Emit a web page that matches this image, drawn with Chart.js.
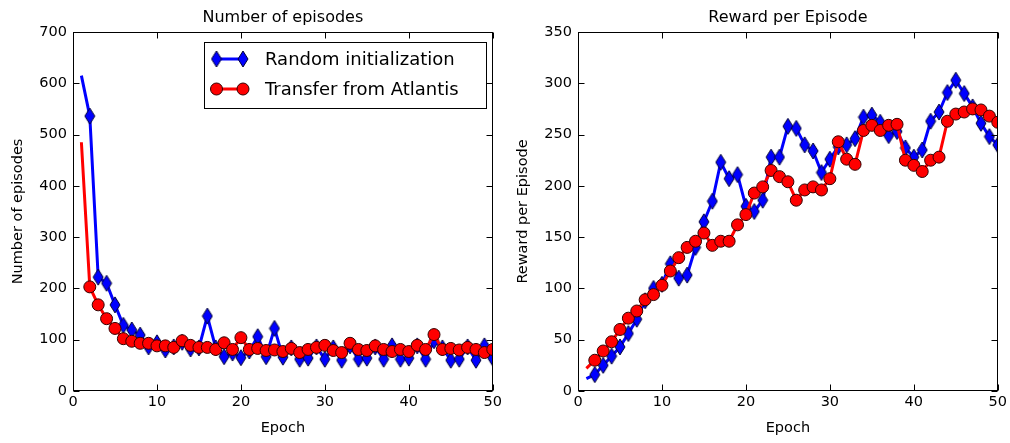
<!DOCTYPE html>
<html><head><meta charset="utf-8">
<script src="https://cdn.jsdelivr.net/npm/chart.js@4/dist/chart.umd.min.js"></script>
<style>
html,body{margin:0;padding:0;background:#fff;}
#wrap{position:relative;width:1010px;height:443px;overflow:hidden;}
canvas{position:absolute;top:0;}
</style></head><body>
<div id="wrap">
<canvas id="left" width="505" height="443" style="left:0"></canvas>
<canvas id="right" width="505" height="443" style="left:505px"></canvas>
</div>
<script>
const epochs = [1,2,3,4,5,6,7,8,9,10,11,12,13,14,15,16,17,18,19,20,21,22,23,24,25,26,27,28,29,30,31,32,33,34,35,36,37,38,39,40,41,42,43,44,45,46,47,48,49,50];
const episodesRandom = [615,536,222,210,168,128,119,109,86,94,80,86,95,82,84,146,84,67,74,65,78,106,67,122,66,84,62,64,86,62,84,60,88,62,64,86,62,88,62,64,88,62,98,84,60,62,86,60,88,64];
const episodesTransfer = [485,203,168,141,122,102,97,93,93,88,88,85,98,89,85,85,81,94,81,104,81,83,79,80,77,83,75,81,85,89,79,75,93,81,79,88,81,77,81,77,89,81,110,81,83,80,85,81,75,81];
const rewardRandom = [12,16,25,34,43,56,70,88,100,104,124,110,113,140,165,185,223,207,211,180,175,186,228,228,258,256,240,234,213,226,238,240,246,267,269,262,249,253,237,228,235,263,272,291,303,290,277,261,248,240];
const rewardTransfer = [22,30,39,48,60,71,78,89,94,103,117,130,140,146,154,142,146,146,162,172,193,199,215,209,204,186,196,199,196,207,243,226,221,254,259,254,259,260,225,220,214,225,228,263,270,272,275,274,268,262];
const xTicks = [0,10,20,30,40,50];
const episodesTicks = [0,100,200,300,400,500,600,700];
const rewardTicks = [0,50,100,150,200,250,300,350];
const seriesLabels = ['Random initialization','Transfer from Atlantis'];
const chartTitles = ['Number of episodes','Reward per Episode'];
const xTitle = 'Epoch';

const FONT = 'DejaVu Sans';
const BLUE = '#0000ff', RED = '#ff0000';

function makeDiamond(w, h, fill, stroke) {
  const c = document.createElement('canvas');
  c.width = w + 2; c.height = h + 2;
  const g = c.getContext('2d');
  g.beginPath();
  g.moveTo(c.width/2, 1); g.lineTo(c.width-1, c.height/2);
  g.lineTo(c.width/2, c.height-1); g.lineTo(1, c.height/2); g.closePath();
  g.fillStyle = fill; g.fill();
  g.lineWidth = 1; g.strokeStyle = stroke; g.stroke();
  return c;
}
const diamond = makeDiamond(10, 16, BLUE, '#000033');

function ds(label, ys, color, style, radius, order) {
  return {
    label,
    data: epochs.map((x, i) => ({x, y: ys[i]})),
    borderColor: color, backgroundColor: color, borderWidth: 3,
    borderJoinStyle: 'round',
    pointStyle: style,
    pointRadius: c => c.dataIndex === 0 ? 0 : radius,
    pointHoverRadius: c => c.dataIndex === 0 ? 0 : radius,
    pointBorderColor: '#330000', pointBorderWidth: 1,
    pointBackgroundColor: color,
    tension: 0, clip: 0, order
  };
}

const framePlugin = {
  id: 'frame',
  afterDatasetsDraw(chart) {
    const {ctx, chartArea: a, scales: {x, y}} = chart;
    const L = Math.round(a.left) + 0.5, R = Math.round(a.right) - 0.5;
    const T = Math.round(a.top) + 0.5, B = Math.round(a.bottom) - 0.5;
    ctx.save();
    ctx.strokeStyle = '#000'; ctx.lineWidth = 1;
    ctx.strokeRect(L, T, R - L, B - T);
    const tl = 6;
    ctx.beginPath();
    x.ticks.forEach(t => {
      const p = Math.round(x.getPixelForValue(t.value)) + 0.5;
      ctx.moveTo(p, B); ctx.lineTo(p, B - tl);
      ctx.moveTo(p, T); ctx.lineTo(p, T + tl);
    });
    y.ticks.forEach(t => {
      const p = Math.round(y.getPixelForValue(t.value)) + 0.5;
      ctx.moveTo(L, p); ctx.lineTo(L + tl, p);
      ctx.moveTo(R, p); ctx.lineTo(R - tl, p);
    });
    ctx.stroke();
    ctx.restore();
  }
};

const legendPlugin = {
  id: 'mplLegend',
  afterDraw(chart) {
    const ctx = chart.ctx;
    const bx = 204.5, by = 42.5, bw = 282, bh = 66;
    ctx.save();
    ctx.fillStyle = '#fff';
    ctx.fillRect(bx, by, bw, bh);
    ctx.strokeStyle = '#000'; ctx.lineWidth = 1;
    ctx.strokeRect(bx, by, bw, bh);
    const entries = [chart.data.datasets[1], chart.data.datasets[0]];
    entries.forEach((d, i) => {
      const yy = 59 + i * 30;
      const x1 = 216.5, x2 = 243;
      ctx.strokeStyle = d.borderColor; ctx.lineWidth = 3;
      ctx.beginPath(); ctx.moveTo(x1, yy); ctx.lineTo(x2, yy); ctx.stroke();
      [x1, x2].forEach(px => {
        if (d.pointStyle === 'circle') {
          ctx.beginPath(); ctx.arc(px, yy, 6, 0, Math.PI * 2);
          ctx.fillStyle = d.pointBackgroundColor; ctx.fill();
          ctx.strokeStyle = d.pointBorderColor; ctx.lineWidth = 1; ctx.stroke();
        } else {
          ctx.drawImage(d.pointStyle, px - d.pointStyle.width/2, yy - d.pointStyle.height/2);
        }
      });
      ctx.fillStyle = '#000';
      ctx.font = '18px "' + FONT + '"';
      ctx.textBaseline = 'middle';
      ctx.textAlign = 'left';
      ctx.fillText(d.label, 265, yy + 1);
    });
    ctx.restore();
  }
};

function makeChart(id, title, yLabel, yMax, yTicks, randomVals, transferVals, withLegend) {
  const plugins = [framePlugin];
  if (withLegend) plugins.push(legendPlugin);
  return new Chart(document.getElementById(id), {
    type: 'line',
    data: {
      datasets: [
        ds(seriesLabels[1], transferVals, RED, 'circle', 6, 0),
        ds(seriesLabels[0], randomVals, BLUE, diamond, 5, 1)
      ]
    },
    options: {
      responsive: false, animation: false, devicePixelRatio: 1,
      layout: {padding: {left: 0, right: 11, top: 0, bottom: 0}},
      plugins: {
        legend: {display: false}, tooltip: {enabled: false},
        title: {display: true, text: title, fullSize: false, color: '#000',
          font: {family: FONT, size: 16, weight: 'normal', lineHeight: '18px'},
          padding: {top: 9, bottom: 5}}
      },
      scales: {
        x: {
          type: 'linear', min: 0, max: 50,
          afterBuildTicks: s => { s.ticks = xTicks.map(v => ({value: v})); },
          afterFit: s => { s.height = 52; },
          grid: {display: false, drawTicks: false}, border: {display: false},
          ticks: {color: '#000', padding: 3, font: {family: FONT, size: 14.5}, maxRotation: 0, autoSkip: false},
          title: {display: true, text: xTitle, color: '#000', font: {family: FONT, size: 14.5}, padding: {top: 0, bottom: 6.5}}
        },
        y: {
          type: 'linear', min: 0, max: yMax,
          afterBuildTicks: s => { s.ticks = yTicks.map(v => ({value: v})); },
          afterFit: s => { s.width = 73; },
          grid: {display: false, drawTicks: false}, border: {display: false},
          ticks: {color: '#000', padding: 6, font: {family: FONT, size: 14.5}, autoSkip: false},
          title: {display: true, text: yLabel, color: '#000', font: {family: FONT, size: 14.5}, padding: {top: 9.3, bottom: 0}}
        }
      }
    },
    plugins
  });
}

makeChart('left', chartTitles[0], 'Number of episodes', 700, episodesTicks, episodesRandom, episodesTransfer, true);
makeChart('right', chartTitles[1], 'Reward per Episode', 350, rewardTicks, rewardRandom, rewardTransfer, false);
</script>
</body></html>
